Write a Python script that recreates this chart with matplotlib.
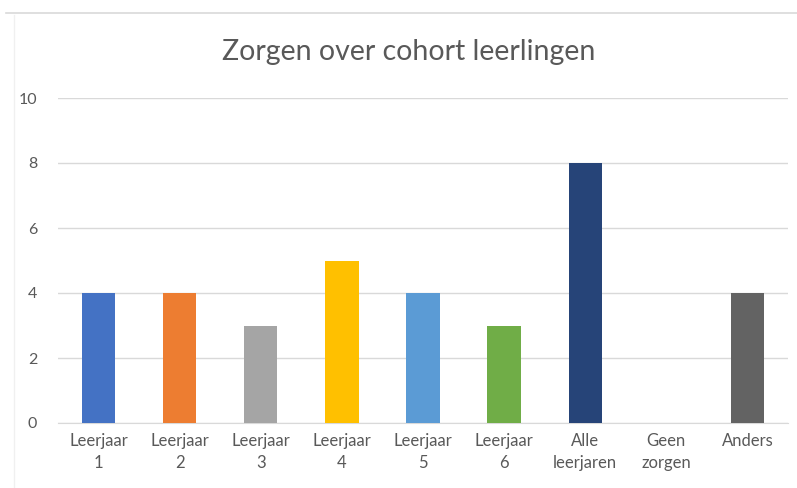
import matplotlib as mp
import matplotlib.pyplot as plt
from matplotlib.lines import Line2D

mp.rcParams["font.family"] = ["Lato", "DejaVu Sans"]

# categorieen en aantallen
labels = ["Leerjaar\n1", "Leerjaar\n2", "Leerjaar\n3", "Leerjaar\n4", "Leerjaar\n5",
          "Leerjaar\n6", "Alle\nleerjaren", "Geen\nzorgen", "Anders"]
values = [4, 4, 3, 5, 4, 3, 8, 0, 4]
colors = ["#4472C4", "#ED7D31", "#A5A5A5", "#FFC000", "#5B9BD5",
          "#70AD47", "#264478", "#9E480E", "#636363"]
yticks = [0, 2, 4, 6, 8, 10]

fig = plt.figure(figsize=(7.97, 4.88), dpi=100)
ax = fig.add_axes([58 / 797, 1 - 423 / 488, 730 / 797, 325 / 488])

x = range(len(labels))
ax.bar(x, values, width=0.41, color=colors, zorder=3)

ax.set_xlim(-0.5, len(labels) - 0.5)
ax.set_ylim(0, 10)
ax.set_yticks(yticks)
ax.set_xticks(list(x))
ax.set_xticklabels(labels, fontsize=12, color="#595959", linespacing=1.45)
ax.tick_params(axis="y", labelsize=11.5, labelcolor="#595959", length=0, pad=15)
ax.tick_params(axis="x", length=0, pad=7)
ax.grid(axis="y", color="#D9D9D9", linewidth=1, zorder=0)
for s in ["top", "right", "left"]:
    ax.spines[s].set_visible(False)
ax.spines["bottom"].set_color("#D9D9D9")

fig.text(0.513, 1 - 52 / 488, "Zorgen over cohort leerlingen", ha="center", va="center",
         fontsize=20.5, color="#595959")

# kader van de grafiek
fig.add_artist(Line2D([6 / 797, 1], [1 - 13 / 488, 1 - 13 / 488], color="#D9D9D9", lw=1.2))
fig.add_artist(Line2D([14 / 797, 14 / 797], [1 - 15 / 488, 0], color="#F0F0F0", lw=1))

fig.savefig("out.png", dpi=100)
